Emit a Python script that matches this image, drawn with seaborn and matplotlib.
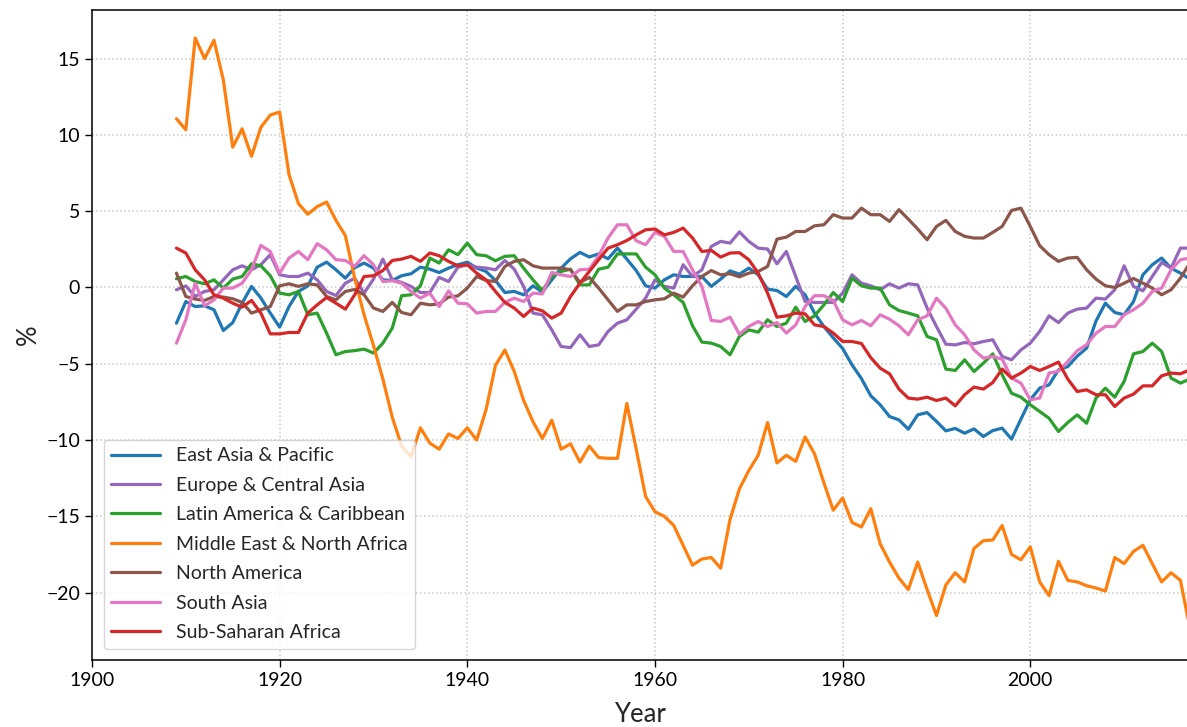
import matplotlib
matplotlib.use("Agg")
import matplotlib.pyplot as plt
import seaborn as sns
import numpy as np
import pandas as pd

years = list(range(1909, 2018))

east_asia = [
    -2.34, -0.92, -1.25, -1.2, -1.46, -2.82, -2.3, -1.03, 0.07, -0.69,
    -1.68, -2.6, -1.25, -0.26, 0.1, 1.33, 1.66, 1.16, 0.61, 1.3,
    1.6, 1.27, 0.5, 0.46, 0.77, 0.9, 1.33, 1.2, 0.98, 1.27,
    1.49, 1.66, 1.27, 1.05, 0.46, -0.33, -0.26, -0.48, 0.11, -0.3,
    0.5, 1.27, 1.88, 2.3, 2.0, 2.2, 1.88, 2.58, 1.86, 1.11,
    0.11, -0.04, 0.5, 0.83, 0.72, 0.72, 0.72, 0.07, 0.55, 1.09,
    0.87, 1.27, 0.83, -0.11, -0.2, -0.59, 0.07, -0.48, -1.68, -2.56,
    -3.3, -4.0, -5.07, -5.97, -7.1, -7.69, -8.46, -8.68, -9.29, -8.35,
    -8.2, -8.78, -9.4, -9.24, -9.55, -9.27, -9.77, -9.38, -9.22, -9.94,
    -8.63, -7.36, -6.6, -6.38, -5.4, -5.18, -4.5, -3.98, -2.2, -1.03,
    -1.64, -1.79, -0.92, 0.83, 1.49, 1.93, 1.27, 0.94, 0.55,
]

europe = [
    -0.15, 0.1, -0.59, -0.26, -0.15, 0.5, 1.16, 1.42, 1.16, 1.49,
    2.15, 0.83, 0.72, 0.72, 0.94, 0.5, -0.26, -0.53, 0.28, 0.6,
    -0.37, 0.55, 1.86, 0.5, 0.33, 0.07, -0.33, -0.33, 0.66, 0.39,
    1.33, 1.49, 1.33, 1.27, 1.16, 1.77, 1.2, 0.07, -1.68, -1.79,
    -2.78, -3.87, -3.94, -3.1, -3.87, -3.76, -2.88, -2.34, -2.12, -1.42,
    -0.7, 0.5, 0.07, -0.04, 1.49, 0.72, 1.16, 2.69, 3.02, 2.91,
    3.64, 3.02, 2.58, 2.52, 1.55, 2.36, 0.72, -0.92, -0.98, -0.98,
    -0.98, -0.37, 0.83, 0.28, 0.11, -0.15, 0.24, -0.04, 0.24, 0.17,
    -1.35, -2.56, -3.72, -3.76, -3.61, -3.69, -3.54, -3.43, -4.52, -4.74,
    -4.09, -3.65, -2.88, -1.86, -2.3, -1.68, -1.42, -1.35, -0.7, -0.76,
    -0.15, 1.42, 0.07, -0.22, 0.72, 1.64, 1.27, 2.58, 2.58,
]

latin_america = [
    0.57, 0.72, 0.39, 0.24, 0.5, -0.04, 0.55, 0.72, 1.55, 1.42,
    0.77, -0.37, -0.48, -0.26, -1.79, -1.68, -2.99, -4.41, -4.2, -4.14,
    -4.04, -4.3, -3.65, -2.66, -0.54, -0.48, 0.11, 1.93, 1.6, 2.47,
    2.15, 2.91, 2.15, 2.08, 1.75, 2.04, 2.08, 1.27, 0.5, -0.2,
    0.72, 1.05, 1.2, 0.17, 0.17, 1.2, 1.33, 2.2, 2.2, 2.2,
    1.33, 0.83, -0.04, -0.48, -0.98, -2.51, -3.58, -3.65, -3.87, -4.41,
    -3.21, -2.78, -2.93, -2.12, -2.56, -2.34, -1.29, -2.23, -1.86, -1.14,
    -0.33, -0.92, 0.61, 0.11, -0.04, -0.04, -1.14, -1.51, -1.68, -1.86,
    -3.21, -3.43, -5.35, -5.44, -4.74, -5.51, -4.96, -4.35, -5.72, -6.93,
    -7.19, -7.69, -8.13, -8.57, -9.44, -8.85, -8.35, -8.9, -7.25, -6.6,
    -7.19, -6.16, -4.35, -4.2, -3.65, -4.2, -5.94, -6.27, -6.0,
]

middle_east = [
    11.06, 10.34, 16.35, 15.0, 16.2, 13.6, 9.2, 10.4, 8.6, 10.5,
    11.3, 11.5, 7.4, 5.5, 4.8, 5.3, 5.6, 4.4, 3.4, 0.6,
    -1.8, -3.8, -6.0, -8.5, -10.4, -11.1, -9.2, -10.2, -10.6, -9.6,
    -9.9, -9.2, -10.0, -8.0, -5.1, -4.1, -5.5, -7.4, -8.8, -9.9,
    -8.7, -10.6, -10.25, -11.45, -10.4, -11.15, -11.2, -11.2, -7.6, -10.6,
    -13.7, -14.7, -15.0, -15.6, -16.9, -18.2, -17.8, -17.7, -18.4, -15.2,
    -13.2, -12.0, -11.0, -8.85, -11.5, -11.0, -11.4, -9.8, -10.9, -12.8,
    -14.6, -13.8, -15.4, -15.7, -14.5, -16.8, -18.0, -19.05, -19.8, -18.0,
    -19.8, -21.5, -19.5, -18.7, -19.3, -17.1, -16.6, -16.55, -15.6, -17.5,
    -17.85, -17.0, -19.3, -20.2, -17.95, -19.2, -19.3, -19.55, -19.7, -19.9,
    -17.7, -18.1, -17.3, -16.9, -18.1, -19.3, -18.7, -19.2, -22.3,
]

north_america = [
    0.94, -0.59, -0.76, -0.85, -0.59, -0.63, -0.74, -0.98, -1.68, -1.46,
    -1.25, 0.11, 0.24, 0.07, 0.24, 0.17, -0.59, -0.81, -0.26, -0.13,
    -0.48, -1.35, -1.57, -0.98, -1.64, -1.79, -1.03, -1.14, -1.07, -0.63,
    -0.55, -0.04, 0.72, 0.46, 0.39, 1.38, 1.71, 1.82, 1.42, 1.27,
    1.27, 1.27, 1.16, 0.33, 0.66, -0.04, -0.81, -1.57, -1.14, -1.14,
    -0.92, -0.81, -0.74, -0.37, -0.63, 0.11, 0.72, 1.11, 0.83, 0.9,
    0.7, 0.94, 1.05, 1.38, 3.17, 3.3, 3.67, 3.67, 4.04, 4.11,
    4.77, 4.55, 4.55, 5.2, 4.77, 4.77, 4.33, 5.1, 4.48, 3.83,
    3.13, 4.0, 4.4, 3.67, 3.35, 3.24, 3.24, 3.61, 4.0, 5.05,
    5.2, 4.0, 2.74, 2.15, 1.71, 1.93, 1.97, 1.16, 0.55, 0.11,
    0.0, 0.28, 0.59, 0.28, -0.04, -0.48, -0.15, 0.61, 1.6,
]

south_asia = [
    -3.65, -2.12, 0.28, -1.2, -0.81, -0.04, -0.04, 0.28, 1.16, 2.76,
    2.36, 0.94, 1.93, 2.36, 1.82, 2.87, 2.47, 1.82, 1.77, 1.4,
    2.08, 1.49, 0.39, 0.44, 0.28, -0.26, -0.7, -0.37, -1.25, -0.22,
    -1.03, -1.07, -1.68, -1.57, -1.57, -0.98, -0.7, -0.92, -0.37, -0.42,
    0.98, 0.83, 0.72, 1.16, 1.2, 2.08, 3.24, 4.11, 4.11, 3.06,
    2.8, 3.61, 3.35, 2.36, 2.36, 1.16, 0.07, -2.16, -2.23, -1.95,
    -3.07, -2.56, -2.23, -2.56, -2.3, -2.99, -2.45, -1.25, -0.54, -0.54,
    -0.85, -2.12, -2.45, -2.16, -2.51, -1.79, -2.08, -2.51, -3.1, -2.12,
    -1.86, -0.7, -1.36, -2.45, -3.1, -4.09, -4.63, -4.52, -4.7, -5.94,
    -6.27, -7.36, -7.25, -5.61, -5.5, -4.85, -4.15, -3.75, -3.0, -2.56,
    -2.56, -1.79, -1.46, -1.03, -0.26, -0.04, 1.16, 1.82, 1.93,
]

sub_saharan = [
    2.58, 2.26, 1.16, 0.5, -0.48, -0.7, -1.03, -1.29, -0.85, -1.68,
    -3.04, -3.04, -2.95, -2.95, -1.68, -1.14, -0.66, -1.03, -1.42, -0.48,
    0.72, 0.77, 1.11, 1.77, 1.86, 2.04, 1.71, 2.26, 2.08, 1.71,
    1.42, 1.49, 0.94, 0.5, -0.26, -0.98, -1.35, -1.9, -1.35, -1.53,
    -2.01, -1.68, -0.59, 0.28, 1.05, 1.82, 2.58, 2.8, 3.08, 3.45,
    3.78, 3.83, 3.45, 3.61, 3.89, 3.24, 2.36, 2.43, 1.99, 2.26,
    2.28, 1.82, 0.94, -0.37, -1.95, -1.86, -1.68, -1.73, -2.45, -2.56,
    -2.99, -3.54, -3.54, -3.67, -4.6, -5.29, -5.66, -6.66, -7.25, -7.32,
    -7.19, -7.41, -7.25, -7.76, -7.03, -6.53, -6.66, -6.23, -5.35, -5.94,
    -5.61, -5.18, -5.44, -5.18, -4.89, -6.01, -6.82, -6.71, -7.03, -7.03,
    -7.8, -7.25, -6.99, -6.45, -6.45, -5.79, -5.61, -5.66, -5.4,
]

regions = [
    "East Asia & Pacific",
    "Europe & Central Asia",
    "Latin America & Caribbean",
    "Middle East & North Africa",
    "North America",
    "South Asia",
    "Sub-Saharan Africa",
]
series = [east_asia, europe, latin_america, middle_east,
          north_america, south_asia, sub_saharan]
colors = ["#1f77b4", "#9467bd", "#2ca02c", "#ff7f0e",
          "#8c564b", "#e377c2", "#d62728"]

# long-form table for seaborn
frames = []
for name, vals in zip(regions, series):
    frames.append(pd.DataFrame({"Year": years, "value": vals, "Region": name}))
df = pd.concat(frames, ignore_index=True)

sns.set_style("ticks")
plt.rcParams["font.family"] = ["Lato", "DejaVu Sans"]
plt.rcParams["axes.unicode_minus"] = True

fig = plt.figure(figsize=(11.87, 7.27), dpi=100)
ax = fig.add_axes([0.0775, 0.0915, 0.9225, 0.895])

sns.lineplot(data=df, x="Year", y="value", hue="Region", hue_order=regions,
             palette=dict(zip(regions, colors)), linewidth=2.3, ax=ax)

ax.set_xlim(1900, 2016.7)
ax.set_ylim(-24.45, 18.2)
ax.set_xticks([1900, 1920, 1940, 1960, 1980, 2000])
ax.set_yticks([-20, -15, -10, -5, 0, 5, 10, 15])
ax.grid(True, linestyle=":", color="#c8c8c8", linewidth=1.1)
ax.tick_params(labelsize=14, length=5, width=1, colors="black")
ax.set_xlabel("Year", fontsize=18.5, labelpad=9)
ax.set_ylabel("%", fontsize=18.5)
ax.spines["right"].set_visible(False)
for s in ["left", "bottom", "top"]:
    ax.spines[s].set_color("black")
    ax.spines[s].set_linewidth(1.1)

leg = ax.legend(loc="lower left", fontsize=14, handlelength=2.5,
                labelspacing=0.64, frameon=True, fancybox=True,
                borderaxespad=0.6)
leg.get_frame().set_edgecolor("#cccccc")
for line in leg.get_lines():
    line.set_linewidth(2.3)

plt.savefig("out.png", dpi=100)
